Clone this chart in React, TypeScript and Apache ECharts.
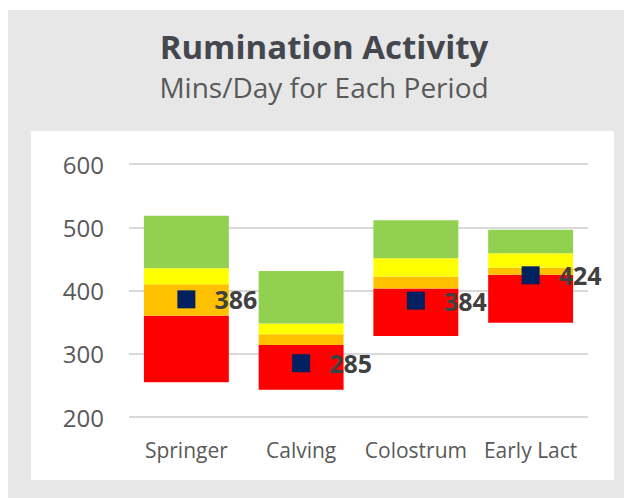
import React, { useEffect, useRef } from "react";
import * as echarts from "echarts";

const categories = ["Springer", "Calving", "Colostrum", "Early Lact"];
const redBottom = [255, 243, 328, 349];
const redTop = [360, 314, 403, 425];
const orangeTop = [410, 331, 422, 436];
const yellowTop = [435, 348, 451, 459];
const greenTop = [518, 431, 511, 496];
const averages = [386, 285, 384, 424];
const yTicks = { min: 200, max: 600, interval: 100 };

const FONT = "'Open Sans', 'Noto Sans', sans-serif";

export default function App() {
  const ref = useRef<HTMLDivElement>(null);
  useEffect(() => {
    if (!ref.current) return;
    const chart = echarts.init(ref.current, undefined, { renderer: "svg" });
    const diff = (a: number[], b: number[]) => a.map((v, i) => v - b[i]);
    const seg = (name: string, data: number[], color: string) => ({
      name,
      type: "bar",
      stack: "range",
      data,
      barWidth: "74%",
      itemStyle: { color },
      silent: true,
    });
    chart.setOption({
      animation: false,
      backgroundColor: "#ffffff",
      textStyle: { fontFamily: FONT },
      graphic: [
        { type: "rect", z: -10, shape: { x: 0, y: 2, width: 624, height: 488 }, style: { fill: "#e7e7e7" } },
        { type: "rect", z: -9, shape: { x: 23, y: 123, width: 583, height: 349 }, style: { fill: "#ffffff" } },
      ],
      title: [
        {
          text: "Rumination Activity",
          left: 316,
          top: 21,
          textAlign: "center",
          padding: 0,
          textStyle: { fontFamily: FONT, fontSize: 33, lineHeight: 35, fontWeight: "bold", color: "#44474d" },
        },
        {
          text: "Mins/Day for Each Period",
          left: 316,
          top: 64,
          textAlign: "center",
          padding: 0,
          textStyle: { fontFamily: FONT, fontSize: 28, lineHeight: 30, fontWeight: "normal", color: "#595959" },
        },
      ],
      grid: { left: 121, right: 44, top: 156, bottom: 81 },
      xAxis: {
        type: "category",
        data: categories,
        axisLine: { show: false },
        axisTick: { show: false },
        axisLabel: { fontFamily: FONT, fontSize: 21, color: "#595959", margin: 22, interval: 0 },
      },
      yAxis: {
        type: "value",
        min: yTicks.min,
        max: yTicks.max,
        interval: yTicks.interval,
        axisLine: { show: false },
        axisTick: { show: false },
        axisLabel: { fontFamily: FONT, fontSize: 24, color: "#595959", margin: 25 },
        splitLine: { lineStyle: { color: "#d9d9d9", width: 2 } },
      },
      series: [
        { ...seg("base", redBottom, "rgba(0,0,0,0)") },
        seg("Red", diff(redTop, redBottom), "#ff0000"),
        seg("Orange", diff(orangeTop, redTop), "#ffc000"),
        seg("Yellow", diff(yellowTop, orangeTop), "#ffff00"),
        seg("Green", diff(greenTop, yellowTop), "#92d050"),
        {
          name: "Average",
          type: "scatter",
          data: averages,
          symbol: "rect",
          symbolSize: 18,
          itemStyle: { color: "#002060", opacity: 1 },
          z: 10,
          label: {
            show: true,
            position: "right",
            distance: 19,
            fontFamily: FONT,
            fontSize: 25,
            fontWeight: "bold",
            color: "#404040",
          },
        },
      ],
    });
    return () => chart.dispose();
  }, []);
  return <div ref={ref} style={{ width: 624, height: 490 }} />;
}
